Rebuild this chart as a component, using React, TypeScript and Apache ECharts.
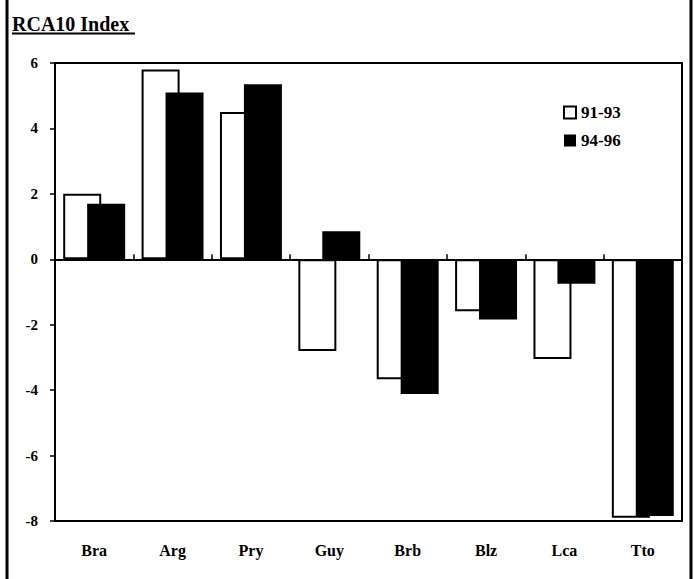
import React, { useEffect, useRef } from "react";
import * as echarts from "echarts";

const categories = ["Bra", "Arg", "Pry", "Guy", "Brb", "Blz", "Lca", "Tto"];
const series9193 = [2.0, 5.8, 4.5, -2.8, -3.67, -1.59, -3.05, -7.9];
const series9496 = [1.7, 5.1, 5.35, 0.86, -4.12, -1.84, -0.75, -7.85];
const seriesNames = ["91-93", "94-96"];
const yTicks = { min: -8, max: 6, interval: 2 };

const FONT = "'Liberation Serif', 'Times New Roman', serif";

export default function App() {
  const ref = useRef<HTMLDivElement>(null);
  useEffect(() => {
    document.body.style.margin = "0";
    const chart = echarts.init(ref.current!, null, { renderer: "svg" });
    chart.setOption({
      animation: false,
      backgroundColor: "#fff",
      textStyle: { fontFamily: FONT },
      grid: {
        left: 55,
        right: 12,
        top: 63,
        bottom: 58,
        show: true,
        borderColor: "#000",
        borderWidth: 2,
        backgroundColor: "transparent",
      },
      legend: {
        orient: "vertical",
        left: 558,
        top: 98,
        itemWidth: 12,
        itemHeight: 12,
        itemGap: 9,
        icon: "rect",
        textStyle: {
          fontFamily: FONT,
          fontWeight: "bold",
          fontSize: 17,
          lineHeight: 19,
          color: "#000",
        },
        data: seriesNames,
      },
      xAxis: [
        {
          type: "category",
          data: categories,
          position: "bottom",
          axisLine: { onZero: false, show: false },
          axisTick: { show: false },
          axisLabel: {
            color: "#000",
            fontFamily: FONT,
            fontWeight: "bold",
            fontSize: 16,
            margin: 21,
          },
        },
        {
          type: "category",
          data: categories,
          position: "bottom",
          axisLine: { onZero: true, lineStyle: { color: "#000", width: 2 } },
          axisTick: { show: true, inside: true, length: 5, lineStyle: { color: "#000", width: 1.5 } },
          axisLabel: { show: false },
        },
      ],
      yAxis: {
        type: "value",
        min: yTicks.min,
        max: yTicks.max,
        interval: yTicks.interval,
        axisLine: { show: true, lineStyle: { color: "#000", width: 2 } },
        axisTick: { show: true, length: 5, lineStyle: { color: "#000", width: 1.5 } },
        splitLine: { show: false },
        axisLabel: {
          color: "#000",
          fontFamily: FONT,
          fontWeight: "bold",
          fontSize: 15,
          margin: 17,
        },
      },
      series: [
        {
          name: seriesNames[0],
          type: "bar",
          xAxisIndex: 0,
          data: series9193,
          barWidth: 38,
          barGap: "-37%",
          itemStyle: { color: "#fff", borderColor: "#000", borderWidth: 2 },
        },
        {
          name: seriesNames[1],
          type: "bar",
          xAxisIndex: 0,
          data: series9496,
          barWidth: 38,
          itemStyle: { color: "#000", borderColor: "#000", borderWidth: 0 },
        },
      ],
      graphic: [
        {
          type: "text",
          x: 12,
          y: 24,
          style: {
            text: "RCA10 Index",
            fontFamily: FONT,
            fontWeight: "bold",
            fontSize: 20,
            fill: "#000",
            verticalAlign: "middle",
          },
        },
        {
          type: "line",
          shape: { x1: 12, y1: 33.5, x2: 135, y2: 33.5 },
          style: { stroke: "#000", lineWidth: 2 },
        },
        {
          type: "line",
          shape: { x1: 7, y1: 0, x2: 7, y2: 579 },
          style: { stroke: "#000", lineWidth: 3 },
        },
        {
          type: "line",
          shape: { x1: 691, y1: 0, x2: 691, y2: 579 },
          style: { stroke: "#000", lineWidth: 3 },
        },
      ],
    });
    return () => chart.dispose();
  }, []);
  return <div ref={ref} style={{ width: 694, height: 579 }} />;
}
